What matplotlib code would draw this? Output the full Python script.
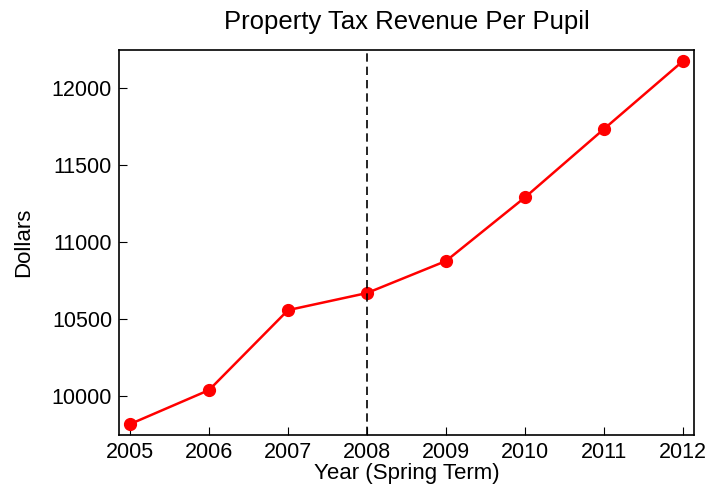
import matplotlib
matplotlib.use('Agg')
import matplotlib.pyplot as plt

plt.rcParams['font.family'] = ['Liberation Sans', 'DejaVu Sans']

years = [2005, 2006, 2007, 2008, 2009, 2010, 2011, 2012]
dollars = [9818, 10039, 10558, 10669, 10877, 11290, 11734, 12175]
yticks = [10000, 10500, 11000, 11500, 12000]

fig = plt.figure(figsize=(7.27, 4.97), dpi=100)
ax = fig.add_axes([0.1637, 0.1247, 0.7909, 0.7747])

ax.plot(years, dollars, color='red', lw=1.8, marker='o', ms=8.5)
ax.axvline(2008, color='black', ls=(0, (5, 3)), lw=1.2)

ax.set_xlim(2004.86, 2012.14)
ax.set_ylim(9747, 12247)
ax.set_xticks(years)
ax.set_yticks(yticks)
ax.tick_params(direction='in', length=6, labelsize=15.5, top=False, right=False, pad=5)
for s in ax.spines.values():
    s.set_linewidth(1.2)

ax.set_title('Property Tax Revenue Per Pupil', fontsize=18.5, pad=15)
ax.set_xlabel('Year (Spring Term)', fontsize=16, labelpad=0)
ax.set_ylabel('Dollars', fontsize=16, labelpad=13)

fig.savefig('out.png', dpi=100)
